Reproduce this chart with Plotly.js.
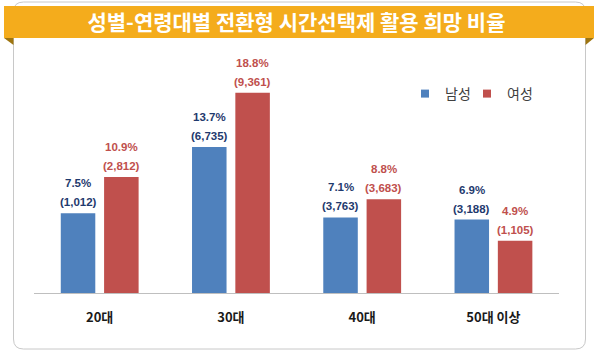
<!DOCTYPE html>
<html>
<head>
<meta charset="utf-8">
<script src="https://cdn.plot.ly/plotly-3.0.1.min.js"></script>
<style>html,body{margin:0;padding:0;background:#fff;}#chart{width:600px;height:354px;}</style>
</head>
<body>
<div id="chart"></div>
<script>
// ---- data ----
const categories = ['20대', '30대', '40대', '50대 이상'];
const seriesNames = ['남성', '여성'];
const malePct = [7.5, 13.7, 7.1, 6.9];
const femalePct = [10.9, 18.8, 8.8, 4.9];
const maleCount = [1012, 6735, 3763, 3188];
const femaleCount = [2812, 9361, 3683, 1105];
const titleText = '성별-연령대별 전환형 시간선택제 활용 희망 비율';

// ---- style ----
const KR = '"Noto Sans CJK KR", "Noto Sans", sans-serif';
const NUM = '"Liberation Sans", Arial, sans-serif';
const colors = ['#4F81BD', '#C0504D'];
const labelColors = ['#1F3A6E', '#C0504D'];
const barOffset = [-0.296, 0.034];
const barWidth = 0.263;
const legendIds = ['legend', 'legend2'];
const legendLeftPx = [405, 467];

const L = 34, R = 41, T = 80, B = 61, W = 600 - L - R, H = 354 - T - B;
const px = v => (v - L) / W;
const py = v => (354 - B - v) / H;

function roundRect(x0, y0, x1, y1, r) {
  const p = (x, y) => px(x) + ',' + py(y);
  return 'M' + p(x0 + r, y0) + ' L' + p(x1 - r, y0) + ' Q' + p(x1, y0) + ' ' + p(x1, y0 + r) +
    ' L' + p(x1, y1 - r) + ' Q' + p(x1, y1) + ' ' + p(x1 - r, y1) +
    ' L' + p(x0 + r, y1) + ' Q' + p(x0, y1) + ' ' + p(x0, y1 - r) +
    ' L' + p(x0, y0 + r) + ' Q' + p(x0, y0) + ' ' + p(x0 + r, y0) + ' Z';
}
function poly(pts) {
  return 'M' + pts.map(q => px(q[0]) + ',' + py(q[1])).join(' L') + ' Z';
}

const pctSeries = [malePct, femalePct];
const countSeries = [maleCount, femaleCount];

const traces = pctSeries.map((vals, s) => ({
  type: 'bar',
  name: seriesNames[s],
  x: categories.map((c, i) => i),
  y: vals,
  offset: barOffset[s],
  width: barWidth,
  marker: {color: colors[s], line: {width: 0}},
  showlegend: false,
  hoverinfo: 'skip'
}));
// legend entries (small square swatches like the original)
seriesNames.forEach((n, s) => {
  traces.push({
    type: 'scatter', mode: 'markers', name: n, x: [null], y: [null], legend: legendIds[s],
    marker: {symbol: 'square', size: 8, color: colors[s]}, showlegend: true, hoverinfo: 'skip'
  });
});

const annotations = [];
pctSeries.forEach((vals, s) => {
  vals.forEach((v, i) => {
    const xc = i + barOffset[s] + barWidth / 2;
    annotations.push({
      x: xc, y: v, xref: 'x', yref: 'y', showarrow: false,
      text: v.toFixed(1) + '%', yanchor: 'middle', yshift: 30,
      font: {family: NUM, size: 11.5, color: labelColors[s], weight: 'bold'}
    });
    annotations.push({
      x: xc, y: v, xref: 'x', yref: 'y', showarrow: false,
      text: '(' + countSeries[s][i].toLocaleString('en-US') + ')', yanchor: 'middle', yshift: 11,
      font: {family: NUM, size: 11.5, color: labelColors[s], weight: 'bold'}
    });
  });
});

const shapes = [
  {type: 'path', xref: 'paper', yref: 'paper', layer: 'below', path: roundRect(13.5, 2, 585.5, 349, 10),
   line: {color: '#C8C8C8', width: 1}, fillcolor: '#FFFFFF'},
  {type: 'rect', xref: 'paper', yref: 'paper', layer: 'below', x0: px(4), x1: px(594), y0: py(6), y1: py(38),
   line: {width: 0}, fillcolor: '#F4AC1C'},
  {type: 'path', xref: 'paper', yref: 'paper', layer: 'below', path: poly([[4, 38], [13.5, 38], [13.5, 45]]),
   line: {width: 0}, fillcolor: '#9E7510'},
  {type: 'path', xref: 'paper', yref: 'paper', layer: 'below', path: poly([[585.5, 38], [594, 38], [585.5, 45]]),
   line: {width: 0}, fillcolor: '#9E7510'}
];

const legendStyle = left => ({
  orientation: 'h', x: px(left), xanchor: 'left', y: py(78), yanchor: 'top',
  font: {family: KR, size: 14, color: '#404040'}, bgcolor: 'rgba(0,0,0,0)', itemwidth: 30
});

const layout = {
  width: 600, height: 354,
  margin: {l: L, r: R, t: T, b: B, pad: 0},
  paper_bgcolor: '#FFFFFF',
  plot_bgcolor: 'rgba(0,0,0,0)',
  title: {
    text: titleText, x: 0.5, xref: 'paper', xanchor: 'center',
    y: 1 - 23 / 354, yref: 'container', yanchor: 'middle',
    font: {family: KR, size: 21, color: '#FFFFFF', weight: 'bold'}
  },
  showlegend: true,
  legend: legendStyle(legendLeftPx[0]),
  legend2: legendStyle(legendLeftPx[1]),
  xaxis: {
    type: 'linear', range: [-0.5, 3.5], tickvals: categories.map((c, i) => i), ticktext: categories,
    showline: true, linecolor: '#BFBFBF', linewidth: 1, showgrid: false, zeroline: false,
    ticks: 'outside', ticklen: 12, tickcolor: 'rgba(0,0,0,0)',
    tickfont: {family: KR, size: 13, color: '#1A1A1A', weight: 'bold'}, fixedrange: true
  },
  yaxis: {
    range: [0, 20], showticklabels: false, showgrid: false, zeroline: false, showline: false, ticks: '', fixedrange: true
  },
  shapes: shapes,
  annotations: annotations
};

Plotly.newPlot('chart', traces, layout, {displayModeBar: false, staticPlot: true});
</script>
</body>
</html>
